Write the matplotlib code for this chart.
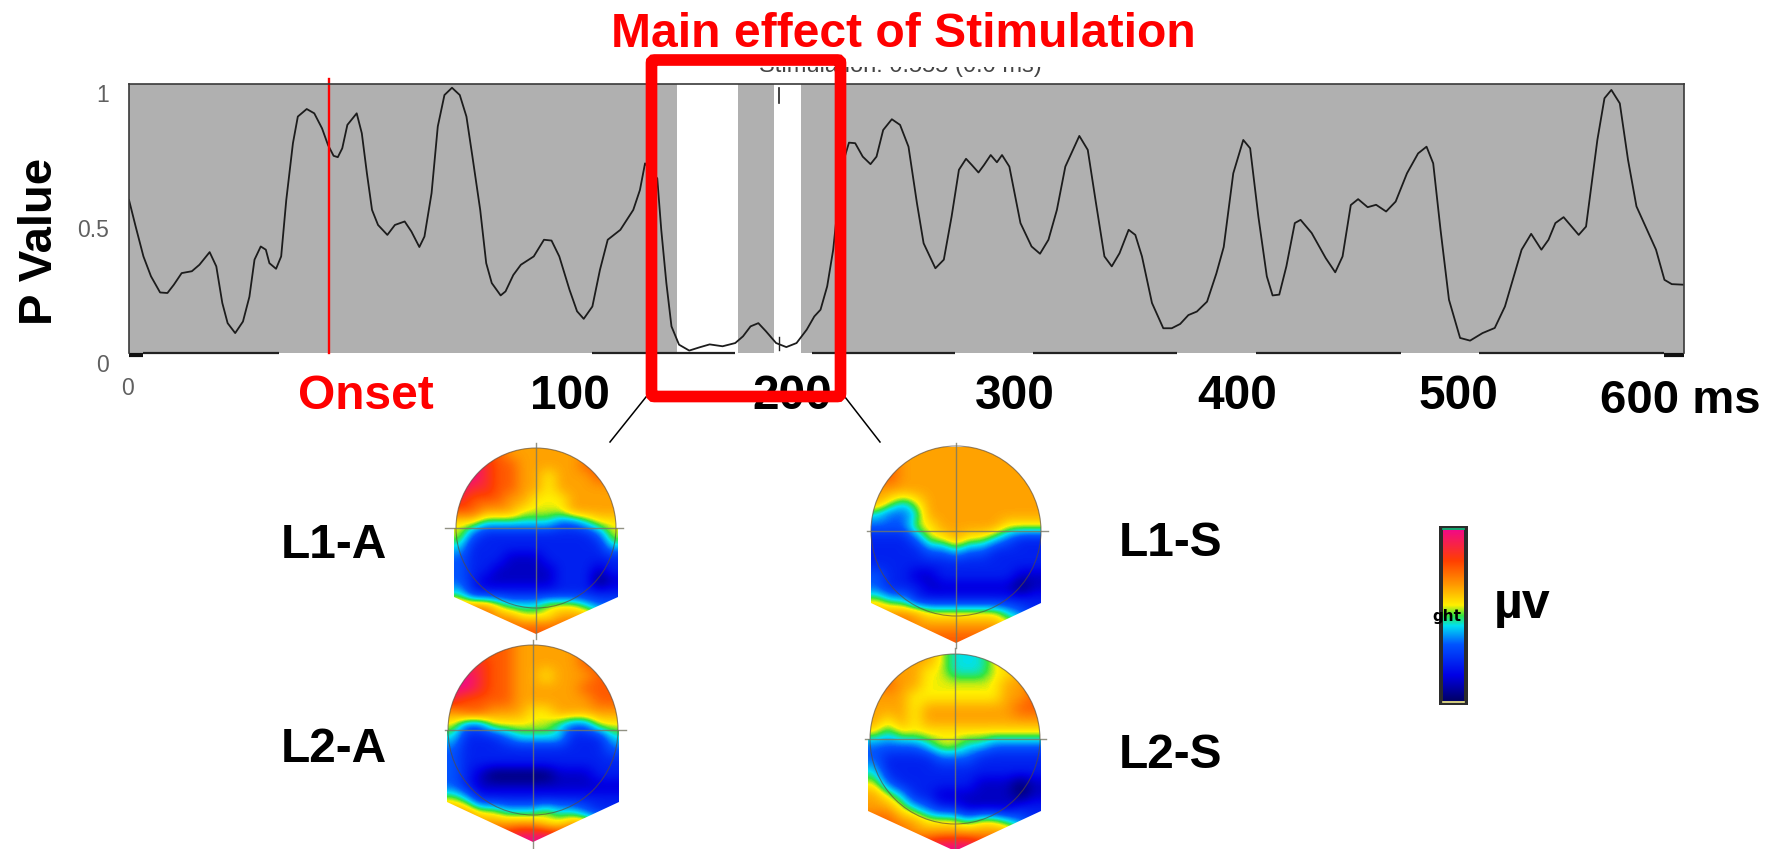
import numpy as np
import matplotlib
matplotlib.use('Agg')
import matplotlib.pyplot as plt
from matplotlib.colors import LinearSegmentedColormap
from matplotlib.patches import Polygon, Circle, Rectangle, FancyBboxPatch

plt.rcParams['font.family'] = ['Liberation Sans', 'DejaVu Sans']

# p value curve (time in ms, onset region starts at -100)
time_ms = [-100, -97.0, -93.5, -90.1, -86.0, -82.7, -79.8, -76.3, -71.7, -68.3, -63.7, -60.7, -58.0, -55.6, -52.2,
           -48.7, -45.8, -43.5, -40.7, -38.4, -36.8, -33.8, -31.5, -29.2, -26.2, -24.0, -20.0, -16.6, -13.1, -10.4,
           -7.9, -6.0, -4.0, -1.7, 2.5, 4.8, 7.1, 9.4, 12.1, 16.3, 19.7, 24.1, 27.1, 30.7, 33.0,
           36.2, 39.0, 42.0, 45.4, 48.9, 51.9, 54.6, 58.1, 60.8, 63.3, 67.3, 69.5, 73.0, 76.4, 82.2,
           86.8, 90.2, 93.7, 98.3, 101.7, 104.7, 108.6, 112.0, 115.5, 121.2, 127.0, 130.0, 132.3, 137.8, 139.6,
           141.9, 144.2, 147.6, 152.2, 156.8, 161.4, 167.2, 172.9, 176.4, 179.8, 183.3, 186.7, 191.3, 195.9, 200.5,
           205.1, 208.5, 211.3, 214.3, 217.0, 218.4, 221.8, 224.1, 226.9, 230.3, 233.8, 236.5, 239.5, 243.4, 247.1,
           250.9, 254.7, 257.7, 263.0, 266.8, 270.3, 273.6, 276.8, 279.4, 282.4, 284.9, 287.9, 290.7, 293.0, 296.3,
           301.3, 306.3, 310.1, 313.9, 317.7, 321.5, 327.8, 331.6, 335.3, 339.1, 342.4, 345.9, 350.0, 353.0, 356.0,
           360.5, 365.6, 369.4, 373.2, 376.9, 380.7, 385.3, 389.5, 392.8, 397.1, 401.6, 404.7, 408.4, 412.2, 414.8,
           417.8, 421.0, 424.8, 427.4, 432.4, 438.7, 443.0, 446.3, 450.0, 453.3, 457.6, 461.4, 465.9, 470.2, 475.3,
           480.3, 484.1, 487.1, 490.4, 494.2, 499.2, 503.7, 509.3, 514.8, 519.4, 526.9, 531.2, 535.8, 539.0, 542.1,
           545.8, 552.6, 555.9, 561.0, 564.2, 567.3, 571.1, 574.8, 578.6, 583.7, 587.4, 591.2, 594.5, 599.5]
p_value = [.569, .470, .359, .285, .225, .223, .254, .297, .304, .328, .375, .322, .186, .111, .074,
           .117, .209, .347, .396, .384, .334, .313, .359, .569, .780, .879, .907, .891, .835, .773,
           .733, .728, .761, .848, .891, .817, .668, .532, .476, .439, .476, .489, .452, .394, .433,
           .594, .842, .959, .986, .959, .879, .730, .532, .334, .260, .214, .229, .290, .328, .359,
           .421, .418, .359, .235, .155, .127, .173, .309, .421, .458, .532, .606, .705, .649, .458,
           .260, .099, .031, .009, .021, .032, .025, .037, .062, .099, .111, .081, .037, .022, .037,
           .087, .136, .161, .248, .384, .495, .718, .782, .780, .730, .702, .730, .829, .869, .848,
           .767, .557, .408, .315, .347, .507, .681, .722, .699, .671, .699, .736, .709, .736, .693,
           .483, .396, .369, .421, .532, .693, .807, .755, .557, .359, .322, .371, .458, .439, .359,
           .186, .092, .092, .108, .141, .154, .191, .296, .394, .668, .792, .761, .507, .285, .214,
           .217, .322, .483, .495, .446, .353, .300, .359, .550, .572, .542, .551, .526, .563, .668,
           .742, .767, .705, .458, .198, .056, .046, .074, .093, .173, .384, .443, .384, .421, .483,
           .505, .439, .470, .792, .947, .978, .928, .718, .545, .452, .384, .272, .256, .254]

# significant windows (white bands)
sig_windows = [(146.5, 174.0), (190.2, 202.3)]
onset_ms = -10
x_ticks = [100, 200, 300, 400, 500]
y_ticks = [0, 0.5, 1]
y_tick_labels = ['0', '0.5', '1']

# scalp maps, digits are colour levels 0 (navy) .. 9 (pink), rows top to tip
map_l1a = ["7777666666677", "8987766666777", "9987766566677", "9887766566666",
           "8777665556666", "7766655556666", "5544444433455", "5322222222235",
           "4222222222224", "3222111222222", "3221111122212", "3211111122201",
           "4222222222222", "6665444555433", "7776655566655", "7777777777777"]
map_l2a = ["7777766666777", "8887766666777", "9987766566677", "9987766666777",
           "8777766666677", "6776665566666", "5335555543355", "4222344442224",
           "3222222222223", "3222222222222", "3210000011122", "3211111111111",
           "5422222222222", "6655444544322", "7766666556655", "8888899988777"]
map_l1s = ["6666666666666", "7766666666666", "7766666666666", "6666666666666",
           "6545666666666", "4334666666666", "3335566666555", "2223556554322",
           "2222334332222", "2222222222222", "3221122222211", "3222111111101",
           "5442222222222", "6666555555432", "7776666666553", "8877777777777"]
map_l2s = ["6666654445666", "6666554445566", "7766555555667", "6665555555667",
           "6665666666677", "6565666666666", "5455555555555", "3333455443333",
           "3222233322222", "4222222222222", "5322222211101", "6542211111101",
           "6654322111122", "7766555455432", "7776666666654", "8888899988777"]
map_names = ['L1-A', 'L2-A', 'L1-S', 'L2-S']

# layout of the maps in pixels: left, right, top, crosshair x, crosshair y, radius, side bottom, tip
map_boxes = [(454, 618, 447, 536, 528, 80, 597, 634),
             (447, 619, 645, 533, 730, 85, 802, 842),
             (871, 1041, 447, 956, 531, 85, 603, 643),
             (868, 1041, 653, 955, 739, 85, 811, 851)]
cross_ends = [(445, 623, 443, 639), (445, 626, 640, 849), (867, 1048, 443, 648), (865, 1046, 648, 849)]
name_pos = [(334, 545), (334, 750), (1171, 544), (1171, 755)]

scalp = LinearSegmentedColormap.from_list('scalp', [
    (0.0, (0, 0, 0.40)), (0.15, (0, 0, 0.90)), (0.33, (0, 0.33, 1)), (0.44, (0, 0.88, 0.95)),
    (0.50, (0.2, 0.90, 0.25)), (0.56, (1, 0.94, 0)), (0.68, (1, 0.60, 0)), (0.82, (1, 0.25, 0)),
    (1.0, (0.95, 0.04, 0.52))])

W, H = 1778, 849
fig = plt.figure(figsize=(W / 100, H / 100), dpi=100, facecolor='white')

# p value panel
ax = fig.add_axes([129 / W, 1 - 353 / H, (1684 - 129) / W, (353 - 84) / H])
ax.set_facecolor('#b0b0b0')
for start, end in sig_windows:
    ax.axvspan(start, end, color='white', lw=0)
ax.plot(time_ms, p_value, color='#1c1c1c', lw=1.3)
ax.axvline(onset_ms, ymin=0, ymax=1.02, color='red', lw=1.7, clip_on=False)
ax.set_xlim(-100, 600)
ax.set_ylim(0, 1)
ax.set_xticks([])
ax.set_yticks([])
for side in ['left', 'top', 'right']:
    ax.spines[side].set_color('#3a3a3a')
    ax.spines[side].set_linewidth(1.2)
ax.spines['bottom'].set_visible(False)

# broken x axis line under the plot
for start, end in [(-93.5, -32.7), (108.6, 172.9), (207.4, 271.8), (307.1, 371.9), (407.4, 472.7), (507.5, 591.2)]:
    ax.plot([start, end], [0, 0], color='#222222', lw=1.6, clip_on=False, solid_capstyle='butt')
for start, end in [(-100, -93.5), (591.2, 600)]:
    ax.plot([start, end], [-0.006, -0.006], color='#111111', lw=3, clip_on=False, solid_capstyle='butt')
ax.plot([192.4, 192.4], [0.985, 0.93], color='#222222', lw=1.2)
ax.plot([192.4, 192.4], [0.06, 0.01], color='#222222', lw=1.0)

for v, label in zip(y_ticks, y_tick_labels):
    ax.annotate(label, xy=(0, v), xycoords=('axes fraction', 'data'), xytext=(-20, -12), textcoords='offset pixels',
                ha='right', va='center', fontsize=16.5, color='#606060')
ax.annotate('0', xy=(0, 0), xycoords='axes fraction', xytext=(-2, -35), textcoords='offset pixels',
            ha='center', va='center', fontsize=16.5, color='#606060')
for t in x_ticks:
    ax.annotate(str(t), xy=(t, 0), xycoords=('data', 'axes fraction'), xytext=(-3, -43), textcoords='offset pixels',
                ha='center', va='center', fontsize=34.5, fontweight='bold', color='black')
ax.annotate('600 ms', xy=(600, 0), xycoords=('data', 'axes fraction'), xytext=(-4, -48), textcoords='offset pixels',
            ha='center', va='center', fontsize=34, fontweight='bold', color='black')

# everything else is placed in pixel coordinates on a full figure layer
over = fig.add_axes([0, 0, 1, 1], facecolor='none')
over.set_axis_off()

for rows, box, cross in zip([map_l1a, map_l2a, map_l1s, map_l2s], map_boxes, cross_ends):
    left, right, top, cx, cy, radius, side, tip = box
    grid = np.array([[int(c) for c in row] for row in rows], dtype=float)
    angle = np.linspace(np.pi, 0, 60)
    outline = [(left, side), (left, cy)] + list(zip(cx + radius * np.cos(angle), cy - radius * np.sin(angle))) + \
              [(right, cy), (right, side), (cx, tip)]
    img = over.imshow(grid, cmap=scalp, vmin=0, vmax=9, extent=(left, right, tip, top),
                      interpolation='bicubic', aspect='auto')
    img.set_clip_path(Polygon(outline, closed=True, transform=over.transData))
    over.add_patch(Circle((cx, cy), radius, fill=False, ec='#5a4a3a', lw=0.8, alpha=0.65))
    over.plot([cross[0], cross[1]], [cy, cy], color='#777766', lw=1.0, alpha=0.8)
    over.plot([cx, cx], [cross[2], cross[3]], color='#777766', lw=1.0, alpha=0.8)

for name, (nx, ny) in zip(map_names, name_pos):
    over.text(nx, ny, name, ha='center', va='center', fontsize=34.5, fontweight='bold', color='black')

# colour bar
over.add_patch(Rectangle((1439, 526), 29, 179, fc='#2b2b2b', ec='none', zorder=1))
over.imshow(np.linspace(1, 0, 256).reshape(-1, 1), cmap=scalp, vmin=0, vmax=1,
            extent=(1443, 1464, 701, 530), aspect='auto', zorder=2)
over.plot([1443, 1464], [528.5, 528.5], color='#10c080', lw=1.2, zorder=3)
over.plot([1443, 1464], [701.5, 701.5], color='#f0e890', lw=1.2, zorder=3)
over.text(1447, 617, 'ght', ha='center', va='center', fontsize=11, fontweight='bold', color='black',
          family='DejaVu Sans', zorder=4)
over.text(1522, 605, 'µv', ha='center', va='center', fontsize=36, fontweight='bold', color='black')

# clipped caption of the original software, only its lower part shows
caption = over.text(900, 66, 'Stimulation: 0.555 (0.0 ms)', ha='center', va='center', fontsize=17, color='#444444')
caption.set_clip_on(True)
caption.set_clip_path(Rectangle((700, 67), 400, 17, transform=over.transData))

# connector lines and highlight box
over.plot([646, 610], [397, 442], color='black', lw=1.1)
over.plot([845, 880], [397, 442], color='black', lw=1.1)
over.add_patch(FancyBboxPatch((651.5, 60), 189, 336.5, boxstyle='round,pad=0,rounding_size=3',
                              fc='none', ec='red', lw=8.4, zorder=6))

over.text(903, 34, 'Main effect of Stimulation', ha='center', va='center', fontsize=34.6, fontweight='bold', color='red')
over.text(366, 396, 'Onset', ha='center', va='center', fontsize=34.5, fontweight='bold', color='red')
over.text(40, 241, 'P Value', ha='center', va='center', rotation=90, fontsize=34, fontweight='bold', color='black')

over.set_xlim(0, W)
over.set_ylim(H, 0)

fig.savefig('out.png', dpi=100)
